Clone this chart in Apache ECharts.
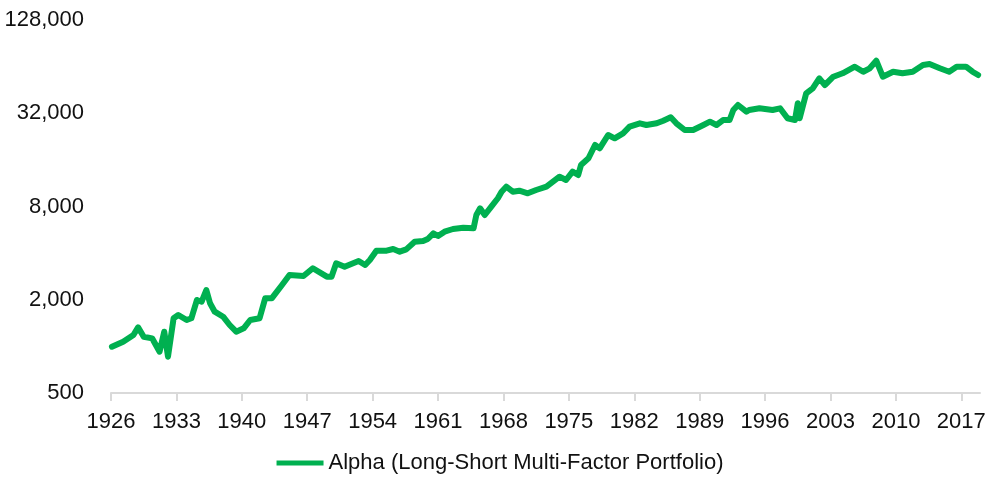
<!DOCTYPE html>
<html>
<head>
<meta charset="utf-8">
<script src="https://cdn.jsdelivr.net/npm/echarts@6/dist/echarts.min.js"></script>
<style>
html,body{margin:0;padding:0;background:#fff;}
#chart{width:1000px;height:488px;}
</style>
</head>
<body>
<div id="chart"></div>
<script>
// Years (decimal) and portfolio values
var years = [1926.1,1927.3,1928.4,1928.9,1929.5,1930.4,1931.2,1931.7,1932.1,1932.7,1933.2,1934.1,1934.6,1935.2,1935.7,1936.2,1936.6,1937.1,1938.0,1938.7,1939.4,1940.2,1940.9,1941.9,1942.5,1943.2,1944.3,1945.1,1946.6,1947.6,1949.1,1949.6,1950.1,1951.0,1952.5,1953.2,1953.7,1954.4,1955.5,1956.2,1956.9,1957.6,1958.5,1959.4,1959.9,1960.5,1961.0,1961.7,1962.6,1963.7,1964.8,1965.1,1965.5,1966.0,1966.7,1967.4,1967.8,1968.3,1969.0,1969.7,1970.6,1970.8,1971.5,1972.6,1973.3,1974.0,1974.7,1975.4,1976.0,1976.3,1977.1,1977.8,1978.3,1979.2,1979.9,1980.8,1981.5,1982.6,1983.3,1984.4,1985.1,1985.9,1986.5,1987.4,1988.3,1989.4,1990.1,1990.8,1991.5,1992.2,1992.6,1993.1,1994.0,1994.3,1995.4,1996.8,1997.6,1998.4,1999.2,1999.5,1999.7,2000.4,2001.1,2001.8,2002.4,2003.3,2004.3,2005.6,2006.5,2007.2,2007.9,2008.6,2009.7,2010.7,2011.8,2012.9,2013.6,2014.7,2015.7,2016.5,2017.5,2018.2,2018.8];
var values = [995,1072,1184,1328,1155,1127,924,1244,858,1518,1594,1480,1518,1993,1943,2312,1897,1675,1554,1374,1244,1308,1480,1518,2043,2043,2490,2890,2847,3193,2818,2818,3439,3269,3558,3353,3612,4147,4147,4252,4086,4230,4741,4790,4935,5371,5159,5502,5725,5837,5780,7050,7788,7050,7979,9040,9969,10740,9969,10120,9737,9494,10225,10740,11568,12460,11864,13420,12780,14826,16380,19964,19000,23164,22050,23750,26200,27550,26870,27550,28640,30130,27550,24950,24950,26870,28230,26870,28940,28940,33600,36180,32760,33600,34440,33600,34440,29690,28940,37100,29690,43060,46370,53800,48700,55100,57960,63920,59330,62440,69900,55100,59330,57960,59330,65560,66530,62440,59330,63920,63920,59330,56500];
var yTickValues = [500,2000,8000,32000,128000];
var xTickYears = [1926,1933,1940,1947,1954,1961,1968,1975,1982,1989,1996,2003,2010,2017];
var seriesName = 'Alpha (Long-Short Multi-Factor Portfolio)';

var base = yTickValues[0];
function toLog(v){ return Math.log(v/base)/Math.log(4); }
var data = years.map(function(y,i){ return [y, toLog(values[i])]; });

var chart = echarts.init(document.getElementById('chart'), null, {renderer:'canvas'});
var font = 'Liberation Sans, Arial, sans-serif';
chart.setOption({
  animation:false,
  backgroundColor:'#ffffff',
  grid:{left:111,right:20,top:20,bottom:95,containLabel:false},
  xAxis:{
    type:'value', min:1926, max:2019, interval:7,
    axisLine:{show:true,lineStyle:{color:'#d9d9d9',width:2}},
    axisTick:{show:true,length:8,lineStyle:{color:'#d9d9d9',width:2}},
    splitLine:{show:false},
    axisLabel:{
      color:'#111', fontFamily:font, fontSize:22, margin:18,
      showMaxLabel:false,
      formatter:function(v){ return xTickYears.indexOf(Math.round(v))>=0 ? String(Math.round(v)) : ''; }
    }
  },
  yAxis:{
    type:'value', min:0, max:yTickValues.length-1, interval:1,
    axisLine:{show:false}, axisTick:{show:false}, splitLine:{show:false},
    axisLabel:{
      color:'#111', fontFamily:font, fontSize:22, margin:27,
      formatter:function(v){ var t = yTickValues[Math.round(v)]; return t==null?'':t.toLocaleString('en-US'); }
    }
  },
  legend:{
    show:true, bottom:9, left:'center',
    icon:'rect', itemWidth:47, itemHeight:5, itemGap:10,
    textStyle:{color:'#111', fontFamily:font, fontSize:22, padding:[0,0,0,0]},
    data:[seriesName]
  },
  series:[{
    name:seriesName, type:'line', data:data,
    showSymbol:false, symbol:'none',
    lineStyle:{color:'#00B050', width:6, join:'round', cap:'round'},
    itemStyle:{color:'#00B050'}
  }]
});
</script>
</body>
</html>
